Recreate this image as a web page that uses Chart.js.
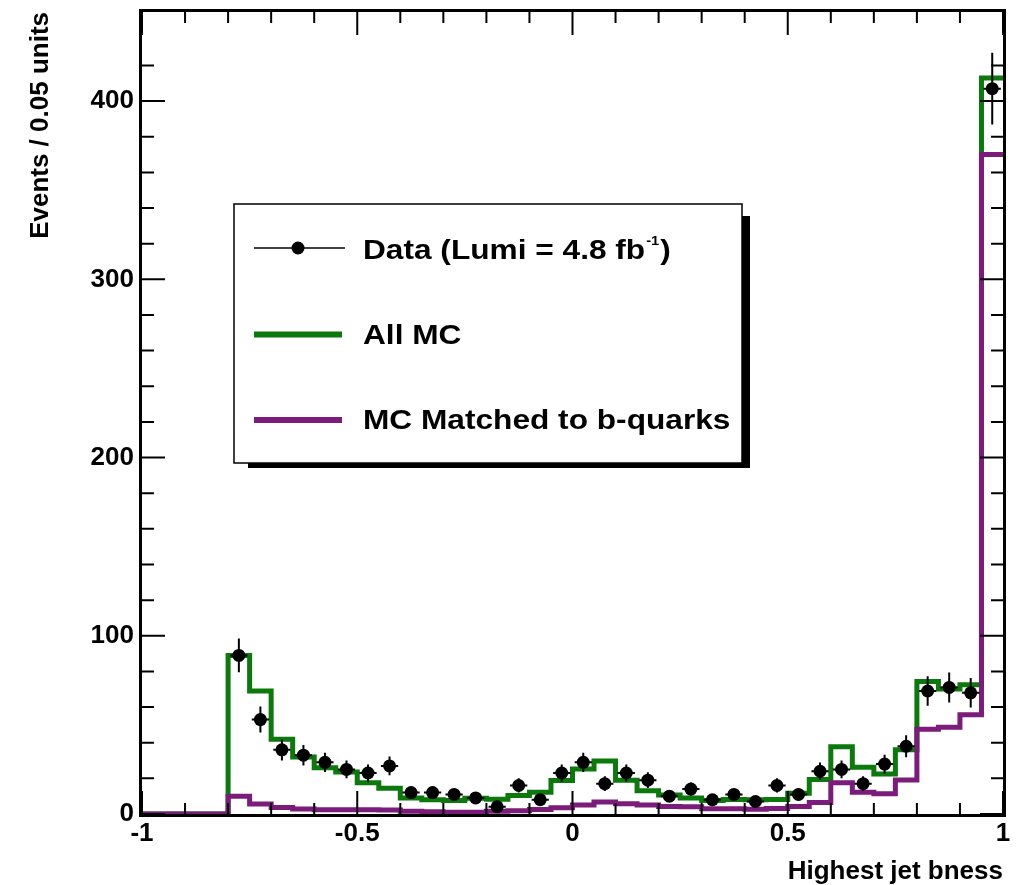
<!DOCTYPE html>
<html>
<head>
    <title>Highest jet bness</title>
    <script src="https://cdn.jsdelivr.net/npm/chart.js"></script>
    <style>
        body { margin: 0; background: #fff; }
    </style>
</head>
<body>
    <canvas id="bnessChart" width="1026" height="885"></canvas>
    <script>
        // 40 bins of width 0.05 from -1 to 1
        const binLow = -1;
        const binWidth = 0.05;

        // events per bin, empty data bins left out
        const dataCounts = [null, null, null, null, 89, 53, 36, 33, 29, 25,
                            23, 27, 12, 12, 11, 9, 4, 16, 8, 23,
                            29, 17, 23, 19, 10, 14, 8, 11, 7, 16,
                            11, 24, 25, 17, 28, 38, 69, 71, 68, 407];
        const allMC = [0, 0, 0, 0, 89, 69, 42, 32, 26, 23.5,
                       17.5, 14.5, 9, 8, 7.6, 8.9, 8.3, 10.4, 12.2, 18.8,
                       25.3, 29.8, 18.9, 13.1, 10.6, 9, 7.6, 8.1, 8, 8.2,
                       11.6, 19.4, 37.8, 26.2, 22.5, 36, 74.4, 70.1, 72.5, 413];
        const bMatchedMC = [0, 0, 0, 0, 10, 5.6, 3.7, 2.8, 2.4, 2.4,
                            2.4, 2.2, 1.5, 1.2, 1, 1, 1.5, 1.8, 2.5, 3.5,
                            5, 6.8, 5.8, 5, 4.2, 4, 3, 2.9, 2.6, 3.1,
                            4.2, 6.5, 17.5, 12.2, 11.3, 19.1, 47.5, 48.7, 55.7, 370];

        const xTickLabels = ['-1', '-0.5', '0', '0.5', '1'];
        const yTickLabels = ['0', '100', '200', '300', '400'];

        const GREEN = '#0b790b';
        const PURPLE = '#7b1c7b';
        const FONT = '"Liberation Sans", Arial, Helvetica, sans-serif';

        // histogram outline: one point per lower bin edge plus the last upper edge
        function stepPoints(values) {
            const pts = values.map((v, i) => ({ x: binLow + i * binWidth, y: v }));
            pts.push({ x: binLow + values.length * binWidth, y: values[values.length - 1] });
            return pts;
        }

        function dataPoints(values) {
            const pts = [];
            values.forEach((v, i) => {
                if (v !== null) pts.push({ x: binLow + (i + 0.5) * binWidth, y: v });
            });
            return pts;
        }

        // sqrt(N) error bars on the data points
        const errorBars = {
            id: 'errorBars',
            afterDatasetsDraw(chart) {
                const { ctx, scales: { x, y } } = chart;
                const halfW = (x.getPixelForValue(binWidth) - x.getPixelForValue(0)) * 0.4;
                ctx.save();
                ctx.strokeStyle = '#000';
                ctx.lineWidth = 2;
                dataCounts.forEach((n, i) => {
                    if (n === null) return;
                    const px = x.getPixelForValue(binLow + (i + 0.5) * binWidth);
                    const py = y.getPixelForValue(n);
                    const err = Math.sqrt(n);
                    ctx.beginPath();
                    ctx.moveTo(px, y.getPixelForValue(n + err));
                    ctx.lineTo(px, y.getPixelForValue(n - err));
                    ctx.moveTo(px - halfW, py);
                    ctx.lineTo(px + halfW, py);
                    ctx.stroke();
                });
                ctx.restore();
            }
        };

        // closed frame with inward ticks on all four sides
        const frameTicks = {
            id: 'frameTicks',
            afterDatasetsDraw(chart) {
                const { ctx, chartArea: a, scales: { x, y } } = chart;
                ctx.save();
                ctx.strokeStyle = '#000';
                ctx.lineWidth = 2;
                ctx.beginPath();
                x.ticks.forEach(t => {
                    const k = Math.round(t.value * 10);
                    const len = k % 5 === 0 ? 23 : 11;
                    const px = x.getPixelForValue(t.value);
                    ctx.moveTo(px, a.bottom);
                    ctx.lineTo(px, a.bottom - len);
                    ctx.moveTo(px, a.top);
                    ctx.lineTo(px, a.top + len);
                });
                y.ticks.forEach(t => {
                    const k = Math.round(t.value);
                    if (k % 20 !== 0) return;
                    const len = k % 100 === 0 ? 23 : 12;
                    const py = y.getPixelForValue(t.value);
                    ctx.moveTo(a.left, py);
                    ctx.lineTo(a.left + len, py);
                    ctx.moveTo(a.right, py);
                    ctx.lineTo(a.right - len, py);
                });
                ctx.stroke();
                ctx.lineWidth = 3;
                ctx.strokeRect(a.left - 1.5, a.top - 1.5, a.right - a.left + 3, a.bottom - a.top + 3);
                ctx.restore();
            }
        };

        // boxed legend with a drop shadow
        const boxLegend = {
            id: 'boxLegend',
            afterDraw(chart) {
                const ctx = chart.ctx;
                const ds = chart.data.datasets;
                const bx = 234, by = 204, bw = 508, bh = 259;
                ctx.save();
                ctx.fillStyle = '#000';
                ctx.fillRect(bx + bw, by + 12, 8, bh - 7);
                ctx.fillRect(bx + 14, by + bh, bw - 6, 5);
                ctx.fillStyle = '#fff';
                ctx.fillRect(bx, by, bw, bh);
                ctx.strokeStyle = '#000';
                ctx.lineWidth = 1.5;
                ctx.strokeRect(bx, by, bw, bh);

                const textX = 363;
                const label = (str, xx, yy, size) => {
                    ctx.save();
                    ctx.translate(xx, yy);
                    ctx.scale(1.13, 1);
                    ctx.font = 'bold ' + size + 'px ' + FONT;
                    ctx.fillStyle = '#000';
                    ctx.textBaseline = 'alphabetic';
                    ctx.fillText(str, 0, 0);
                    const w = ctx.measureText(str).width * 1.13;
                    ctx.restore();
                    return w;
                };

                // data entry: thin line with a marker
                ctx.strokeStyle = '#000';
                ctx.lineWidth = 1.5;
                ctx.beginPath();
                ctx.moveTo(254, 248);
                ctx.lineTo(345, 248);
                ctx.stroke();
                ctx.fillStyle = ds[0].backgroundColor;
                ctx.beginPath();
                ctx.arc(298, 248, 6.5, 0, Math.PI * 2);
                ctx.fill();
                const w = label('Data (Lumi = 4.8 fb', textX, 259, 28);
                const w2 = label('-1', textX + w + 1, 245, 13);
                label(')', textX + w + w2 + 2, 259, 28);

                // MC entries
                [[ds[2], 334.5, 344], [ds[1], 420, 428.5]].forEach(([d, ly, ty]) => {
                    ctx.strokeStyle = d.borderColor;
                    ctx.lineWidth = 6;
                    ctx.beginPath();
                    ctx.moveTo(254, ly);
                    ctx.lineTo(342, ly);
                    ctx.stroke();
                    label(d.label, textX, ty, 28);
                });
                ctx.restore();
            }
        };

        const ctx = document.getElementById('bnessChart').getContext('2d');
        const chart = new Chart(ctx, {
            type: 'scatter',
            data: {
                datasets: [
                    {
                        label: 'Data (Lumi = 4.8 fb-1)',
                        data: dataPoints(dataCounts),
                        backgroundColor: '#000',
                        borderColor: '#000',
                        pointRadius: 6.5,
                        pointBorderWidth: 0,
                        showLine: false
                    },
                    {
                        label: 'MC Matched to b-quarks',
                        data: stepPoints(bMatchedMC),
                        borderColor: PURPLE,
                        borderWidth: 5,
                        borderJoinStyle: 'miter',
                        borderCapStyle: 'butt',
                        pointRadius: 0,
                        showLine: true,
                        stepped: 'before',
                        fill: false
                    },
                    {
                        label: 'All MC',
                        data: stepPoints(allMC),
                        borderColor: GREEN,
                        borderWidth: 5,
                        borderJoinStyle: 'miter',
                        borderCapStyle: 'butt',
                        pointRadius: 0,
                        showLine: true,
                        stepped: 'before',
                        fill: false
                    }
                ]
            },
            options: {
                responsive: false,
                animation: false,
                layout: { padding: { left: 28, top: 12, right: 23, bottom: 0 } },
                plugins: {
                    legend: { display: false },
                    tooltip: { enabled: false }
                },
                scales: {
                    x: {
                        type: 'linear',
                        min: -1,
                        max: 1,
                        grid: { display: false, drawTicks: false },
                        border: { display: false },
                        ticks: {
                            stepSize: 0.1,
                            autoSkip: false,
                            maxRotation: 0,
                            padding: 7,
                            color: '#000',
                            font: { family: FONT, size: 26, weight: 'bold', lineHeight: 1 },
                            callback: v => {
                                const s = String(Math.round(v * 10) / 10);
                                return xTickLabels.includes(s) ? s : '';
                            }
                        },
                        title: {
                            display: true,
                            text: 'Highest jet bness',
                            align: 'end',
                            color: '#000',
                            padding: 0,
                            font: { family: FONT, size: 26, weight: 'bold', lineHeight: 1 }
                        },
                        afterFit: s => {
                            s.height = 71;
                            s.paddingLeft = 0;
                            s.paddingRight = 0;
                        }
                    },
                    y: {
                        min: 0,
                        max: 450,
                        grid: { display: false, drawTicks: false },
                        border: { display: false },
                        ticks: {
                            stepSize: 20,
                            autoSkip: false,
                            padding: 8,
                            color: '#000',
                            font: { family: FONT, size: 26, weight: 'bold', lineHeight: 1 },
                            callback: v => {
                                const s = String(Math.round(v));
                                return yTickLabels.includes(s) ? s : '';
                            }
                        },
                        title: {
                            display: true,
                            text: 'Events / 0.05 units',
                            align: 'end',
                            color: '#000',
                            padding: 0,
                            font: { family: FONT, size: 26, weight: 'bold', lineHeight: 1 }
                        },
                        afterFit: s => {
                            s.width = 114;
                            s.paddingTop = 0;
                            s.paddingBottom = 0;
                        }
                    }
                }
            },
            plugins: [errorBars, frameTicks, boxLegend]
        });
    </script>
</body>
</html>
